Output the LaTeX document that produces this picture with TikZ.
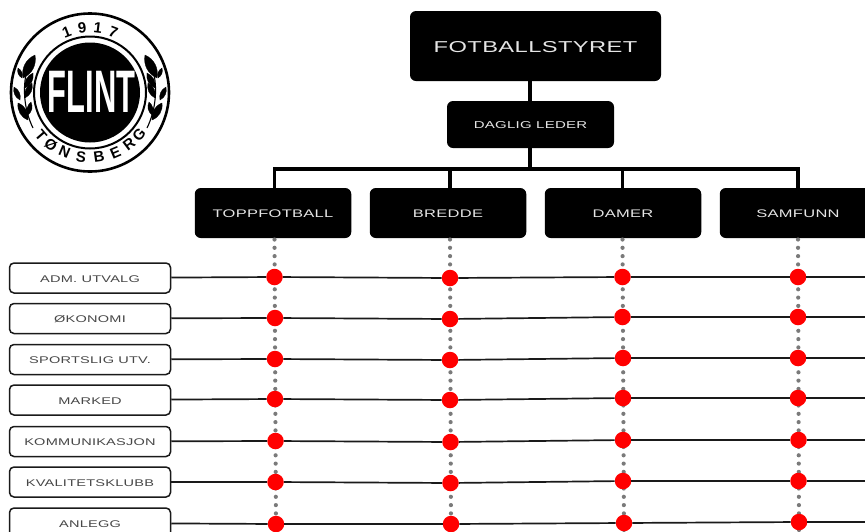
\documentclass[tikz,border=0pt]{standalone}
\usepackage{fontspec}
\newfontfamily\widefont[FakeStretch=1.5,LetterSpace=2.5]{Liberation Sans}
\definecolor{ink}{HTML}{1A1A1A}
\definecolor{dotgrey}{HTML}{7A7A7A}
\newcommand{\dropped}[2]{\raisebox{-#1pt}[\height][\depth]{#2}}
\tikzset{
  every node/.style={font=\widefont},
  blackbox/.style={fill=black,rounded corners=6pt,inner sep=0pt,text=white!90!black,anchor=center},
  rowbox/.style={draw=ink,fill=white,line width=1.5pt,rounded corners=4.5pt,minimum width=161pt,minimum height=30pt,inner sep=0pt,text=black!72,font=\widefont\fontsize{9.7}{11}\selectfont},
  conn/.style={draw=black,line width=3.5pt},
  rowline/.style={draw=ink,line width=1.7pt},
  dotline/.style={draw=dotgrey,line width=4.2pt,line cap=round,dash pattern=on 0pt off 8.3pt},
  reddot/.style={circle,fill=red,minimum size=16.5pt,inner sep=0pt},
  logoletter/.style={font=\fontspec{Liberation Sans Bold}\fontsize{15}{16}\selectfont,text=black,inner sep=0pt},
  leaf/.style={fill=black,draw=black,line width=0.3pt},
}
\begin{document}
\begin{tikzpicture}[x=1pt,y=-1pt]
\useasboundingbox (0,0) rectangle (865,531);
\clip (0,0) rectangle (865,531);
% logo
\node[circle,draw=black,line width=2.6pt,minimum size=158pt,inner sep=0pt] (ringouter) at (90,92.5) {};
\node[circle,draw=black,line width=2pt,minimum size=112pt,inner sep=0pt] (ringinner) at (90,92.5) {};
\node[circle,fill=black,minimum size=100pt,inner sep=0pt] (disc) at (90,92.5) {};
\node[text=white,inner sep=0pt,font=\fontspec{Liberation Sans Bold}\fontsize{60}{61}\selectfont,xscale=0.515] (flint) at (91.5,92) {FLINT};
\foreach \ch/\ang/\nm in {1/-21/a,9/-7/b,1/7/c,7/21/d}{
  \pgfmathsetmacro{\rot}{-\ang}
  \node[logoletter,rotate=\rot] (top\nm) at ({90+65*sin(\ang)},{92.5-65*cos(\ang)}) {\ch};
}
\foreach \ch/\ang/\nm in {T/49/a,Ø/37/b,N/23/c,S/8/d,B/-8/e,E/-23/f,R/-37/g,G/-49/h}{
  \pgfmathsetmacro{\rot}{-\ang}
  \node[logoletter,rotate=\rot] (bot\nm) at ({90-65*sin(\ang)},{92.5+65*cos(\ang)}) {\ch};
}
% laurels
\foreach \s in {1,-1}{
  \begin{scope}[shift={(90,0)},xscale=\s]
    \draw[black,line width=1.1pt] (57,128) .. controls (65,112) and (70,85) .. (60,62);
    \foreach \xa/\ya/\xb/\yb in {67/78/55/55,72/68/68/78,65/88/57/73,76/87/70/100,65/98/58/83,72/103/62/120,62/115/59/102}{
      \fill[leaf] (\xa,\ya) to[bend left=38] (\xb,\yb) to[bend left=38] (\xa,\ya) -- cycle;
    }
  \end{scope}
}
% chart
\node[blackbox,minimum width=251pt,minimum height=70pt,font=\widefont\fontsize{15.8}{17}\selectfont] (board) at (535.5,46) {\dropped{1.5}{FOTBALLSTYRET}};
\node[blackbox,minimum width=167pt,minimum height=47pt,font=\widefont\fontsize{10}{12}\selectfont] (leader) at (530.5,124.5) {\dropped{1}{DAGLIG LEDER}};
\coordinate (hub) at (530,169);
\tikzset{colbox/.style={blackbox,minimum width=156.5pt,minimum height=50pt,font=\widefont\fontsize{11}{13}\selectfont}}
\node[colbox] (c1) at (273,213) {\dropped{1}{TOPPFOTBALL}};
\node[colbox] (c2) at (448,213) {\dropped{1}{BREDDE}};
\node[colbox] (c3) at (623,213) {\dropped{1}{DAMER}};
\node[colbox] (c4) at (798,213) {\dropped{1}{SAMFUNN}};
\draw[conn] (hub |- board.south) -- (hub |- leader.north);
\draw[conn] (hub |- leader.south) -- (hub);
\coordinate (t1) at (274.5,169);
\coordinate (t2) at (450,169);
\coordinate (t3) at (622.5,169);
\coordinate (t4) at (798,169);
\draw[conn,line cap=rect] (t1) -- (t4);
\draw[conn] (t1) -- (t1 |- c1.north);
\draw[conn] (t2) -- (t2 |- c2.north);
\draw[conn] (t3) -- (t3 |- c3.north);
\draw[conn] (t4) -- (t4 |- c4.north);
\coordinate (b1) at (276,531);
\coordinate (b2) at (451,531);
\coordinate (b3) at (624,531);
\coordinate (b4) at (799,531);
\draw[dotline] (274.5,239.5) -- (b1);
\draw[dotline] (450,239.5) -- (b2);
\draw[dotline] (622.5,239.5) -- (b3);
\draw[dotline] (798,239.5) -- (b4);
% rows
\foreach \i/\lab/\ya in {
  1/ADM. UTVALG/278,
  2/ØKONOMI/318.5,
  3/SPORTSLIG UTV./359.5,
  4/MARKED/400,
  5/KOMMUNIKASJON/441.5,
  6/KVALITETSKLUBB/482,
  7/ANLEGG/523}{
  \node[rowbox] (r\i) at (90,\ya) {\dropped{0.8}{\lab}};
}
\foreach \i/\xa/\ya/\xb/\yb/\xc/\yc/\xd/\yd in {
  1/274.5/277/450/278/622.5/277/798/277,
  2/275/318/450/319/622.5/317/798/317,
  3/275/359/450/360/623/358/798/358,
  4/275/399/450/400/623/398/798/398,
  5/275.5/441/450.5/442/623/440/798.5/440,
  6/275.5/482/450.5/483/623/481/798.5/481,
  7/276/524/451/524/624/523/799/522}{
  \node[reddot] (d\i a) at (\xa,\ya) {};
  \node[reddot] (d\i b) at (\xb,\yb) {};
  \node[reddot] (d\i c) at (\xc,\yc) {};
  \node[reddot] (d\i d) at (\xd,\yd) {};
  \coordinate (e\i) at (865,\yd);
  \draw[rowline] (r\i) -- (d\i a);
  \draw[rowline] (d\i a) -- (d\i b);
  \draw[rowline] (d\i b) -- (d\i c);
  \draw[rowline] (d\i c) -- (d\i d);
  \draw[rowline] (d\i d) -- (e\i);
}
\end{tikzpicture}
\end{document}
